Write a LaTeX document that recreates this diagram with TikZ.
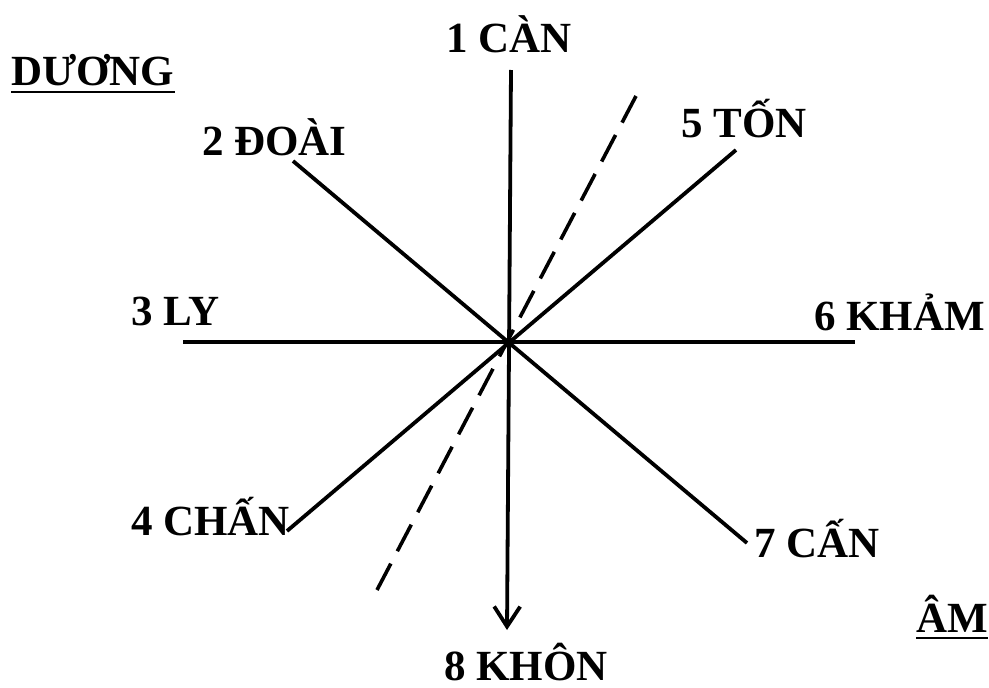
\documentclass[tikz,border=0pt]{standalone}
\usepackage{fontspec}
\setmainfont{Liberation Serif}
\usetikzlibrary{arrows.meta}

\begin{document}
\begin{tikzpicture}[
  x=1pt, y=-1pt,
  font=\fontsize{43}{50}\selectfont\bfseries,
  spoke/.style={line width=3.8pt},
  axis/.style={line width=3.8pt, -{Straight Barb[length=20pt, width=26pt, line width=3.8pt]}},
  dashline/.style={line width=3.6pt, dash pattern=on 30pt off 14pt},
  lbl/.style={anchor=base west, inner sep=0pt},
  uline/.style={line width=2.2pt},
]
\useasboundingbox (0,0) rectangle (989,688);

% centre and free ends
\coordinate (O)    at (510, 342);
\coordinate (top)  at (511, 70);
\coordinate (bot)  at (507, 630);
\coordinate (west) at (183, 342);
\coordinate (east) at (855, 342);
\coordinate (nw)   at (293, 161);
\coordinate (ne)   at (736, 150);
\coordinate (sw)   at (287, 531);
\coordinate (se)   at (747, 543);
\coordinate (dtop) at (636, 96);
\coordinate (dbot) at (377, 590);

% spokes
\draw[axis]  (top) -- (bot);
\draw[spoke] (west) -- (east);
\draw[spoke] (nw) -- (se);
\draw[spoke] (sw) -- (ne);
\draw[dashline] (dtop) -- (dbot);

% labels
\node[lbl] (can)   at (446, 52)  {1 CÀN};
\node[lbl] (doai)  at (202, 155) {2 ĐOÀI};
\node[lbl] (ly)    at (131, 325) {3 LY};
\node[lbl] (chan)  at (131, 535) {4 CHẤN};
\node[lbl] (ton)   at (681, 137) {5 TỐN};
\node[lbl] (kham)  at (814, 330) {6 KHẢM};
\node[lbl] (cann)  at (754, 557) {7 CẤN};
\node[lbl] (khon)  at (444, 680) {8 KHÔN};

% duong / am
\node[lbl] (duong) at (11, 85)   {DƯƠNG};
\node[lbl] (am)    at (916, 632) {ÂM};
\draw[uline] ([yshift=-7pt]duong.base west) -- ([yshift=-7pt]duong.base east);
\draw[uline] ([yshift=-6pt]am.base west) -- ([yshift=-6pt]am.base east);

\end{tikzpicture}
\end{document}
